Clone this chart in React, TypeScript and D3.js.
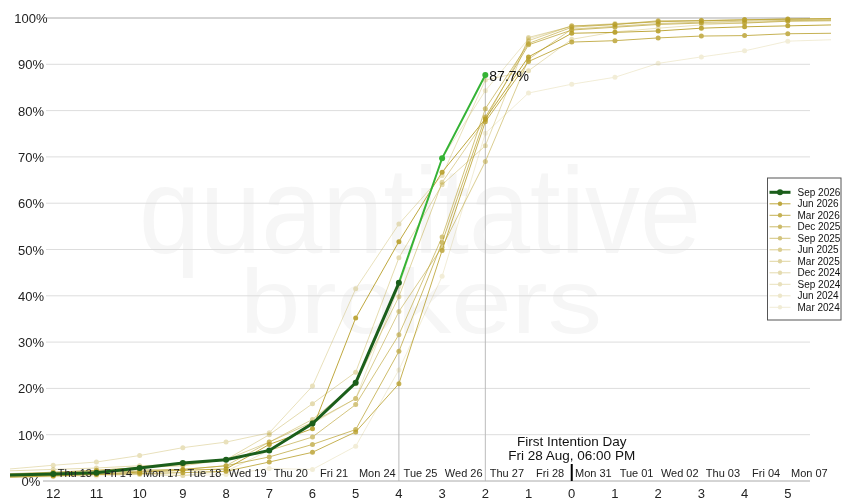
import React from "react";
import * as d3 from "d3";

// business days to first intention day (left = far away)
const days = [13, 12, 11, 10, 9, 8, 7, 6, 5, 4, 3, 2, 1, 0, -1, -2, -3, -4, -5, -6];

const currentName = "Sep 2026";
const currentValues = [1.3, 1.5, 1.8, 2.8, 3.9, 4.6, 6.6, 12.4, 21.2, 42.8, 69.7, 87.7];
// the last points of the current contract are drawn in the bright green
const liveFrom = 9;

const pastNames = [
  "Jun 2026", "Mar 2026", "Dec 2025", "Sep 2025", "Jun 2025",
  "Mar 2025", "Dec 2024", "Sep 2024", "Jun 2024", "Mar 2024",
];
const jun2026 = [1.0, 1.2, 1.5, 1.9, 2.3, 2.6, 7.9, 11.3, 35.2, 51.7, 66.7, 78.2, 91.6, 96.7, 96.9, 97.2, 97.8, 98.1, 98.3, 98.5];
const mar2026 = [0.8, 1.1, 1.4, 1.6, 1.8, 2.1, 4.1, 6.2, 10.6, 21.0, 49.8, 77.6, 90.6, 94.8, 95.1, 95.7, 96.1, 96.2, 96.6, 96.7];
const dec2025 = [1.2, 1.4, 1.9, 2.1, 2.5, 3.3, 5.2, 7.9, 11.1, 28.0, 51.5, 78.6, 94.2, 97.4, 98.0, 98.6, 98.9, 98.9, 99.3, 99.4];
const sep2025 = [1.5, 1.9, 2.3, 2.9, 3.6, 4.6, 6.6, 9.5, 16.5, 31.6, 52.7, 80.4, 94.5, 98.0, 98.6, 99.2, 99.4, 99.6, 99.7, 99.8];
const jun2025 = [1.4, 1.7, 2.1, 2.4, 2.5, 3.3, 8.4, 12.7, 17.8, 36.6, 50.5, 69.0, 91.1, 97.6, 98.2, 98.8, 99.1, 99.3, 99.5, 99.6];
const mar2025 = [1.6, 1.9, 2.3, 2.9, 3.3, 4.6, 8.4, 13.3, 21.0, 39.8, 64.5, 78.0, 95.1, 98.3, 98.6, 99.4, 99.4, 99.6, 99.8, 99.9];
const dec2024 = [2.2, 2.5, 2.8, 3.3, 3.6, 4.6, 10.0, 16.7, 23.5, 48.2, 64.0, 72.4, 95.8, 98.2, 98.8, 99.2, 99.5, 99.6, 99.8, 99.9];
const sep2024 = [2.6, 3.4, 4.1, 5.5, 7.2, 8.4, 10.4, 20.5, 41.5, 55.5, 66.0, 86.6, 88.6, 95.4, 97.0, 97.8, 98.5, 99.0, 99.4, 99.6];
const jun2024 = [1.0, 1.1, 1.4, 1.4, 1.2, 2.1, 6.6, 12.4, 17.8, 42.0, 69.7, 84.3, 95.5, 98.3, 98.6, 99.4, 99.4, 99.6, 99.8, 99.9];
const mar2024 = [0.8, 0.9, 1.1, 1.4, 1.2, 1.4, 2.7, 2.5, 7.5, 24.0, 44.2, 75.1, 83.8, 85.7, 87.2, 90.2, 91.6, 92.9, 95.0, 95.3];
const pastValues = [jun2026, mar2026, dec2025, sep2025, jun2025, mar2025, dec2024, sep2024, jun2024, mar2024];
const pastOpacity = [0.88, 0.78, 0.68, 0.59, 0.5, 0.43, 0.36, 0.3, 0.24, 0.18];

const yTicks = [0, 10, 20, 30, 40, 50, 60, 70, 80, 90, 100];
const xTicks = [12, 11, 10, 9, 8, 7, 6, 5, 4, 3, 2, 1, 0, -1, -2, -3, -4, -5];
const dayLabels = [
  "Thu 13", "Fri 14", "Mon 17", "Tue 18", "Wed 19", "Thu 20", "Fri 21", "Mon 24", "Tue 25",
  "Wed 26", "Thu 27", "Fri 28", "Mon 31", "Tue 01", "Wed 02", "Thu 03", "Fri 04", "Mon 07",
];
const markDays = [4, 2];

const W = 850;
const H = 500;
const gold = "#b69c24";
const darkGreen = "#1b5e1b";
const liveGreen = "#35b335";
const font = "'Liberation Sans', Arial, sans-serif";

const x = d3.scaleLinear().domain([13, -6]).range([10, 831]);
const y = d3.scaleLinear().domain([0, 100]).range([481, 18]);

const line = d3
  .line<[number, number]>()
  .x((d) => x(d[0]))
  .y((d) => y(d[1]));

const pairs = (vals: number[]) => vals.map((v, i) => [days[i], v] as [number, number]);
const hasDot = (d: number) => d <= 12 && d >= -5;

const App: React.FC = () => {
  const cur = pairs(currentValues);
  const curOld = cur.slice(0, liveFrom + 1);
  const curLive = cur.slice(liveFrom);
  const last = cur[cur.length - 1];

  return (
    <div style={{ position: "fixed", left: 0, top: 0 }}>
      <svg width={W} height={H} style={{ fontFamily: font, display: "block" }}>
        <defs>
          <clipPath id="plot">
            <rect x={8} y={0} width={825} height={482} />
          </clipPath>
        </defs>

        {/* watermark */}
        <g fill="#f6f6f6">
          <text x={139} y={253} fontSize={122} textLength={562} lengthAdjust="spacingAndGlyphs">
            quantitative
          </text>
          <text x={240} y={333} fontSize={90} textLength={362} lengthAdjust="spacingAndGlyphs">
            brokers
          </text>
        </g>

        {/* grid */}
        {yTicks.map((t) => (
          <g key={t}>
            <line
              x1={t === 0 ? 43 : 46}
              x2={810}
              y1={y(t)}
              y2={y(t)}
              stroke={t === 0 || t === 100 ? "#aaaaaa" : "#dddddd"}
              strokeWidth={1}
            />
            <text x={31} y={y(t) + 5} fontSize={13} textAnchor="middle" fill="#222">
              {t}%
            </text>
          </g>
        ))}

        {/* drop lines from the current contract */}
        {markDays.map((d) => {
          const v = currentValues[days.indexOf(d)];
          return (
            <line key={d} x1={x(d)} x2={x(d)} y1={y(v)} y2={y(0)} stroke="#bbbbbb" strokeWidth={1} />
          );
        })}

        {/* past contracts, faintest first */}
        <g clipPath="url(#plot)">
          {pastValues
            .map((vals, i) => ({ vals, i }))
            .reverse()
            .map(({ vals, i }) => (
              <g key={pastNames[i]} opacity={pastOpacity[i]}>
                <path d={line(pairs(vals)) || ""} fill="none" stroke={gold} strokeWidth={1} />
                {pairs(vals)
                  .filter((p) => hasDot(p[0]))
                  .map((p) => (
                    <circle key={p[0]} cx={x(p[0])} cy={y(p[1])} r={2.5} fill={gold} />
                  ))}
              </g>
            ))}

          {/* current contract */}
          <path d={line(curOld) || ""} fill="none" stroke={darkGreen} strokeWidth={3} />
          <path d={line(curLive) || ""} fill="none" stroke={liveGreen} strokeWidth={2} />
          {cur
            .filter((p) => hasDot(p[0]))
            .map((p, i) => (
              <circle
                key={p[0]}
                cx={x(p[0])}
                cy={y(p[1])}
                r={3}
                fill={i + 1 > liveFrom ? liveGreen : darkGreen}
              />
            ))}
        </g>

        <text x={x(last[0]) + 4} y={y(last[1]) + 6} fontSize={14} fill="#111">
          {last[1].toFixed(1)}%
        </text>

        {/* day labels between ticks */}
        {dayLabels.map((lab, i) => (
          <text key={lab} x={x(11.5 - i)} y={476.5} fontSize={11} textAnchor="middle" fill="#222">
            {lab}
          </text>
        ))}

        {/* business day ticks */}
        {xTicks.map((d) => (
          <text key={d} x={x(d)} y={498} fontSize={13} textAnchor="middle" fill="#222">
            {Math.abs(d)}
          </text>
        ))}

        {/* first intention day marker */}
        <line x1={x(0)} x2={x(0)} y1={464} y2={481} stroke="#000" strokeWidth={2} />
        <text x={x(0)} y={446} fontSize={13.5} textAnchor="middle" fill="#111">
          First Intention Day
        </text>
        <text x={x(0)} y={460} fontSize={13.5} textAnchor="middle" fill="#111">
          Fri 28 Aug, 06:00 PM
        </text>

        {/* legend */}
        <g transform="translate(767.5,178)">
          <rect x={0} y={0} width={73.5} height={142} fill="#fff" stroke="#555" strokeWidth={1} />
          <g transform="translate(0,14.3)">
            <line x1={2} x2={23} y1={0} y2={0} stroke={darkGreen} strokeWidth={3} />
            <circle cx={12.5} cy={0} r={3} fill={darkGreen} />
            <text x={30} y={3.5} fontSize={10} fill="#111">
              {currentName}
            </text>
          </g>
          {pastNames.map((name, i) => (
            <g key={name} transform={`translate(0,${14.3 + (i + 1) * 11.5})`}>
              <g opacity={pastOpacity[i]}>
                <line x1={2} x2={23} y1={0} y2={0} stroke={gold} strokeWidth={1} />
                <circle cx={12.5} cy={0} r={2.2} fill={gold} />
              </g>
              <text x={30} y={3.5} fontSize={10} fill="#111">
                {name}
              </text>
            </g>
          ))}
        </g>
      </svg>
    </div>
  );
};

export default App;
